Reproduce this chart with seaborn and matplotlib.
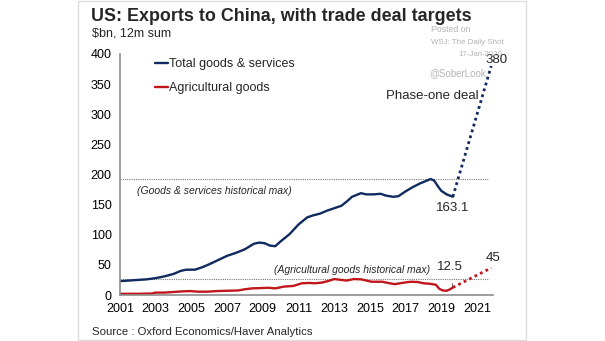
import matplotlib
matplotlib.use("Agg")
import matplotlib.pyplot as plt
from matplotlib.patches import Rectangle
import seaborn as sns
import pandas as pd

# --- data -------------------------------------------------------------
total_years = [2001.0, 2001.5, 2002.0, 2002.5, 2003.0, 2003.5, 2004.0, 2004.4,
               2004.7, 2005.2, 2005.6, 2006.0, 2006.5, 2007.0, 2007.5, 2008.0,
               2008.5, 2008.8, 2009.1, 2009.4, 2009.7, 2010.0, 2010.5, 2011.0,
               2011.5, 2011.8, 2012.2, 2012.6, 2013.0, 2013.4, 2013.7, 2014.0,
               2014.5, 2014.8, 2015.2, 2015.6, 2015.9, 2016.3, 2016.6, 2017.0,
               2017.4, 2017.8, 2018.2, 2018.4, 2018.6, 2018.8, 2019.0, 2019.3,
               2019.65]
total_values = [23, 24, 25, 26, 28, 31, 35, 40,
                42, 42, 46, 51, 58, 65, 70, 76,
                85, 87, 86, 82, 81, 89, 101, 117,
                129, 132, 135, 140, 144, 148, 155, 163,
                169, 167, 167, 168, 165, 163, 164, 172,
                179, 185, 190, 192.5, 190, 181, 173, 167,
                163.1]

ag_years = [2001.0, 2002.0, 2002.8, 2003.0, 2003.5, 2004.0, 2004.5, 2004.9,
            2005.4, 2005.9, 2006.4, 2007.0, 2007.6, 2008.0, 2008.4, 2008.9,
            2009.3, 2009.7, 2010.2, 2010.7, 2011.2, 2011.6, 2011.9, 2012.3,
            2012.7, 2013.0, 2013.4, 2013.7, 2014.1, 2014.5, 2014.8, 2015.1,
            2015.7, 2016.1, 2016.4, 2016.9, 2017.3, 2017.7, 2018.0, 2018.4,
            2018.7, 2018.9, 2019.1, 2019.3, 2019.5, 2019.65]
ag_values = [2, 2, 2.5, 4, 4, 5, 6, 6.5,
             5.5, 5.5, 6.5, 7, 7.5, 9.5, 11, 11.5,
             12, 11, 14, 15, 19.5, 20, 19.5, 20.5,
             23.5, 26.5, 25, 24, 26.5, 26, 24, 22,
             22, 19.5, 18, 20.5, 22, 21.5, 19.5, 18.5,
             17, 10, 7.5, 7, 9.5, 12.5]

# phase-one deal targets
target_years = [2019.65, 2021.8]
total_target = [163.1, 380]
ag_target = [12.5, 45]

total_max = 192.5
ag_max = 26.5

series_names = ["Total goods & services", "Agricultural goods"]
NAVY = "#0f2a5e"
RED = "#c0161c"

x_ticks = list(range(2001, 2022, 2))
y_ticks = list(range(0, 401, 50))

# --- frame ------------------------------------------------------------
sns.set_theme(style="white")
plt.rcParams["font.family"] = ["Liberation Sans", "DejaVu Sans"]

W, H = 605, 341
fig = plt.figure(figsize=(W / 100, H / 100), dpi=100)
fig.patch.set_facecolor("white")


def fx(px):
    return px / W


def fy(py):
    return 1 - py / H


ax = fig.add_axes([fx(120), fy(295), fx(493) - fx(120), fy(54) - fy(295)])
ax.set_facecolor("white")

df = pd.concat([
    pd.DataFrame({"year": total_years, "value": total_values, "series": series_names[0]}),
    pd.DataFrame({"year": ag_years, "value": ag_values, "series": series_names[1]}),
])

sns.lineplot(data=df, x="year", y="value", hue="series", hue_order=series_names,
             palette=[NAVY, RED], linewidth=1.7, sort=False, ax=ax)

proj = pd.concat([
    pd.DataFrame({"year": target_years, "value": total_target, "series": "t"}),
    pd.DataFrame({"year": target_years, "value": ag_target, "series": "a"}),
])
sns.lineplot(data=proj[proj.series == "t"], x="year", y="value", color=NAVY,
             linewidth=2.0, linestyle=(0, (1, 1.2)), legend=False, ax=ax)
sns.lineplot(data=proj[proj.series == "a"], x="year", y="value", color=RED,
             linewidth=2.0, linestyle=(0, (1, 1.2)), legend=False, ax=ax)

# historical maxima
for level in (total_max, ag_max):
    ax.plot([2001, 2021.7], [level, level], color="#7a7a7a", lw=0.8,
            linestyle=(0, (1, 1)), zorder=1)

ax.set_xlim(2001, 2021.9)
ax.set_ylim(0, 400)
ax.set_xticks(x_ticks)
ax.set_xticklabels([str(t) for t in x_ticks])
ax.set_yticks(y_ticks)
ax.set_xlabel("")
ax.set_ylabel("")
ax.grid(False)
for side in ("top", "right"):
    ax.spines[side].set_visible(False)
for side in ("left", "bottom"):
    ax.spines[side].set_color("#8c8c8c")
    ax.spines[side].set_linewidth(1.2)
ax.tick_params(axis="both", which="major", direction="out", length=3, width=1,
               color="#8c8c8c", labelsize=9, labelcolor="black", pad=3)

leg = ax.legend(loc="upper left", bbox_to_anchor=(fx(155), fy(58)),
                bbox_transform=fig.transFigure, frameon=False, fontsize=9,
                handlelength=1.0, handletextpad=0.15, labelspacing=0.95,
                borderpad=0, borderaxespad=0)
for line in leg.get_lines():
    line.set_linewidth(1.7)

# value labels
ax.annotate(f"{total_target[-1]:g}", (target_years[-1], total_target[-1]),
            xytext=(5, 6), textcoords="offset pixels", ha="center", va="center",
            fontsize=9.5)
ax.annotate(f"{ag_target[-1]:g}", (target_years[-1], ag_target[-1]),
            xytext=(2, 10), textcoords="offset pixels", ha="center", va="center",
            fontsize=9.5)
ax.annotate(f"{total_target[0]:g}", (target_years[0], total_target[0]),
            xytext=(0, -11), textcoords="offset pixels", ha="center", va="center",
            fontsize=9.5)
ax.annotate(f"{ag_target[0]:g}", (target_years[0], ag_target[0]),
            xytext=(-3, 20), textcoords="offset pixels", ha="center", va="center",
            fontsize=9.5,
            arrowprops=dict(arrowstyle="-", color="#555555", lw=0.7,
                            shrinkA=5, shrinkB=1))

fig.text(fx(386), fy(96), "Phase-one deal", fontsize=9.5, ha="left", va="center")
fig.text(fx(137), fy(191), "(Goods & services historical max)", fontsize=7.5,
         style="italic", ha="left", va="center")
fig.text(fx(274), fy(270), "(Agricultural goods historical max)", fontsize=7.5,
         style="italic", ha="left", va="center")

# titles and notes
fig.text(fx(91), fy(21), "US: Exports to China, with trade deal targets",
         fontsize=12.9, fontweight="bold", ha="left", va="baseline")
fig.text(fx(92), fy(37), "$bn, 12m sum", fontsize=9, ha="left", va="baseline")
fig.text(fx(92), fy(335), "Source : Oxford Economics/Haver Analytics",
         fontsize=8.2, ha="left", va="baseline")

GREY = "#b4b4b4"
fig.text(fx(431), fy(29), "Posted on", fontsize=6.3, color=GREY, ha="left", va="center")
fig.text(fx(431), fy(43), "WSJ: The Daily Shot", fontsize=5.7, color=GREY, ha="left", va="center")
fig.text(fx(458), fy(55), "17-Jan-2020", fontsize=5.7, color=GREY, ha="left", va="center")
fig.text(fx(429), fy(73), "@SoberLook", fontsize=7, color=GREY, ha="left", va="center")

fig.patches.append(Rectangle((fx(78), fy(340)), fx(526) - fx(78), fy(1) - fy(340),
                             transform=fig.transFigure, fill=False,
                             edgecolor="#dddddd", linewidth=1.0))

fig.savefig("out.png", dpi=100, facecolor="white")
